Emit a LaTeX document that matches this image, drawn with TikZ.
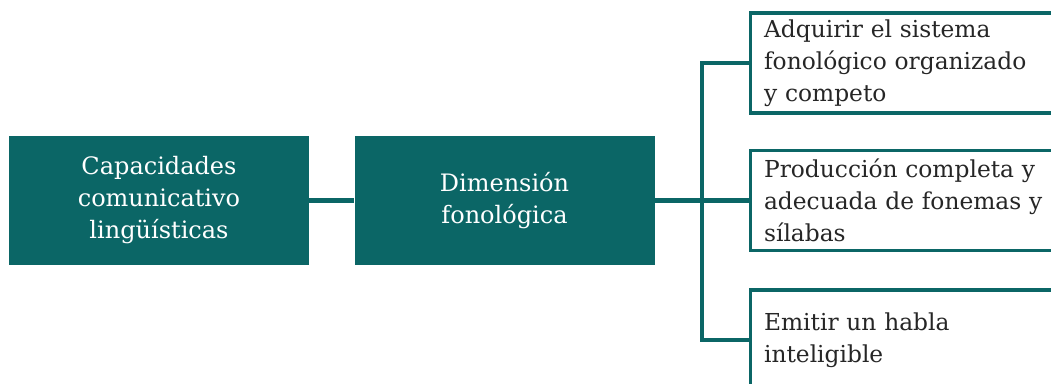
\documentclass[tikz,border=0pt]{standalone}
\usepackage{fontspec}
\setmainfont{DejaVu Serif}
\definecolor{dimteal}{HTML}{0B6666}

\tikzset{
    darkbox/.style={fill=dimteal, text=white, minimum width=225pt, minimum height=96.75pt,
        align=center, inner sep=0pt, font=\fontsize{18}{24}\selectfont},
    itembox/.style={draw=dimteal, line width=2.6pt, fill=white, anchor=west,
        minimum width=260pt, minimum height=75pt, text width=240pt, inner xsep=9pt,
        align=left, text=black!85, font=\fontsize{17.5}{24}\selectfont},
    link/.style={draw=dimteal, line width=3.4pt}
}

\begin{document}
\begin{tikzpicture}[x=0.75pt, y=-0.75pt]
    \useasboundingbox (0,0) rectangle (1051,383);
    \clip (0,0) rectangle (1051,383);

    \node [darkbox] (cap) at (159,200.5) {Capacidades\\comunicativo\\lingüísticas};
    \node [darkbox] (dim) at (504.5,200.5) {Dimensión\\fonológica};

    \coordinate (fork) at (702,200.5);

    \node [itembox] (adq) at (749,63) {Adquirir el sistema\\fonológico organizado\\y competo};
    \node [itembox] (prod) at (749,200.5) {Producción completa y\\adecuada de fonemas y\\sílabas};
    \node [itembox] (emit) at (749,340) {Emitir un habla\\inteligible};

    \draw [link] (cap) -- (dim);
    \draw [link] (dim) -- (fork);
    \draw [link] (fork) |- (adq.west);
    \draw [link] (fork) -- (prod.west);
    \draw [link] (fork) |- (emit.west);
\end{tikzpicture}
\end{document}
